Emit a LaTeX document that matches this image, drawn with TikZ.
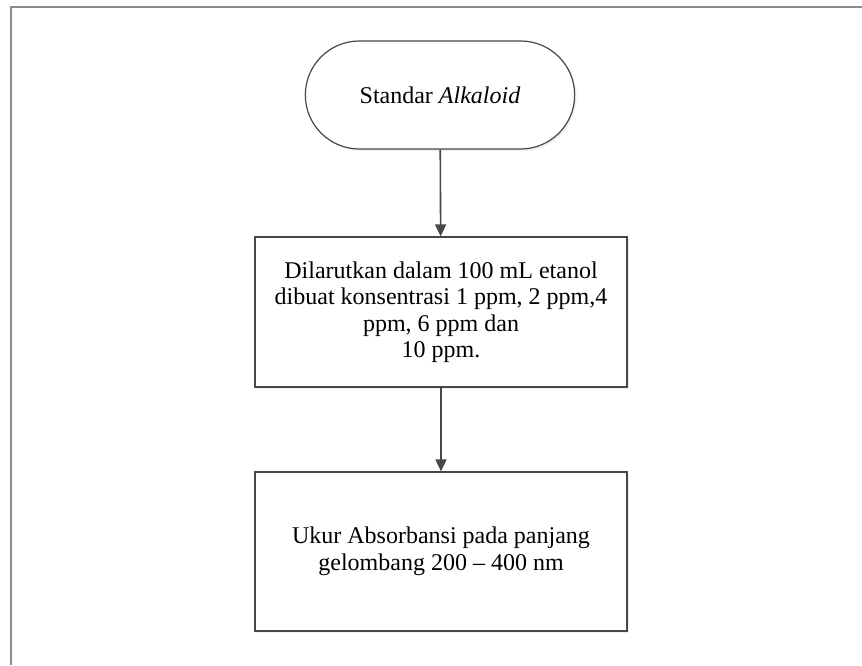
\documentclass[tikz,border=0pt]{standalone}
\usepackage{fontspec}
\setmainfont{Liberation Serif}
\usetikzlibrary{arrows.meta,shapes.misc,shadows}
\definecolor{edge}{HTML}{474747}
\definecolor{framegray}{HTML}{8C8C8C}
\tikzset{
  flowbox/.style={draw=edge, line width=1.2pt, fill=white, align=center,
    font=\fontsize{24}{26.5}\selectfont,
    drop shadow={opacity=0.12, shadow xshift=2pt, shadow yshift=-2pt}},
  terminal/.style={flowbox, rounded rectangle, minimum width=276pt, minimum height=108pt},
  process/.style={flowbox, rectangle, minimum width=372pt},
  flowarrow/.style={draw=edge, line width=1.6pt, -{Triangle[width=11pt,length=12pt]}}
}
\begin{document}
\begin{tikzpicture}[x=1pt,y=-1pt]
  \useasboundingbox (0,0) rectangle (862,665);
  % page frame (left and top edges)
  \draw[framegray, line width=1.6pt] (11,665) -- (11,7) -- (862,7);

  \node[terminal] (start) at (440,95) {Standar \textit{Alkaloid}};
  \node[process, minimum height=150pt] (dissolve) at (441,312)
    {Dilarutkan dalam 100 mL etanol\\dibuat konsentrasi 1 ppm, 2 ppm,4\\ppm, 6 ppm dan\\10 ppm.};
  \node[process, minimum height=159pt] (measure) at (441,551.5)
    {Ukur Absorbansi pada panjang\\gelombang 200 -- 400 nm};

  \draw[flowarrow] (start) -- (dissolve);
  \draw[flowarrow] (dissolve) -- (measure);
\end{tikzpicture}
\end{document}
